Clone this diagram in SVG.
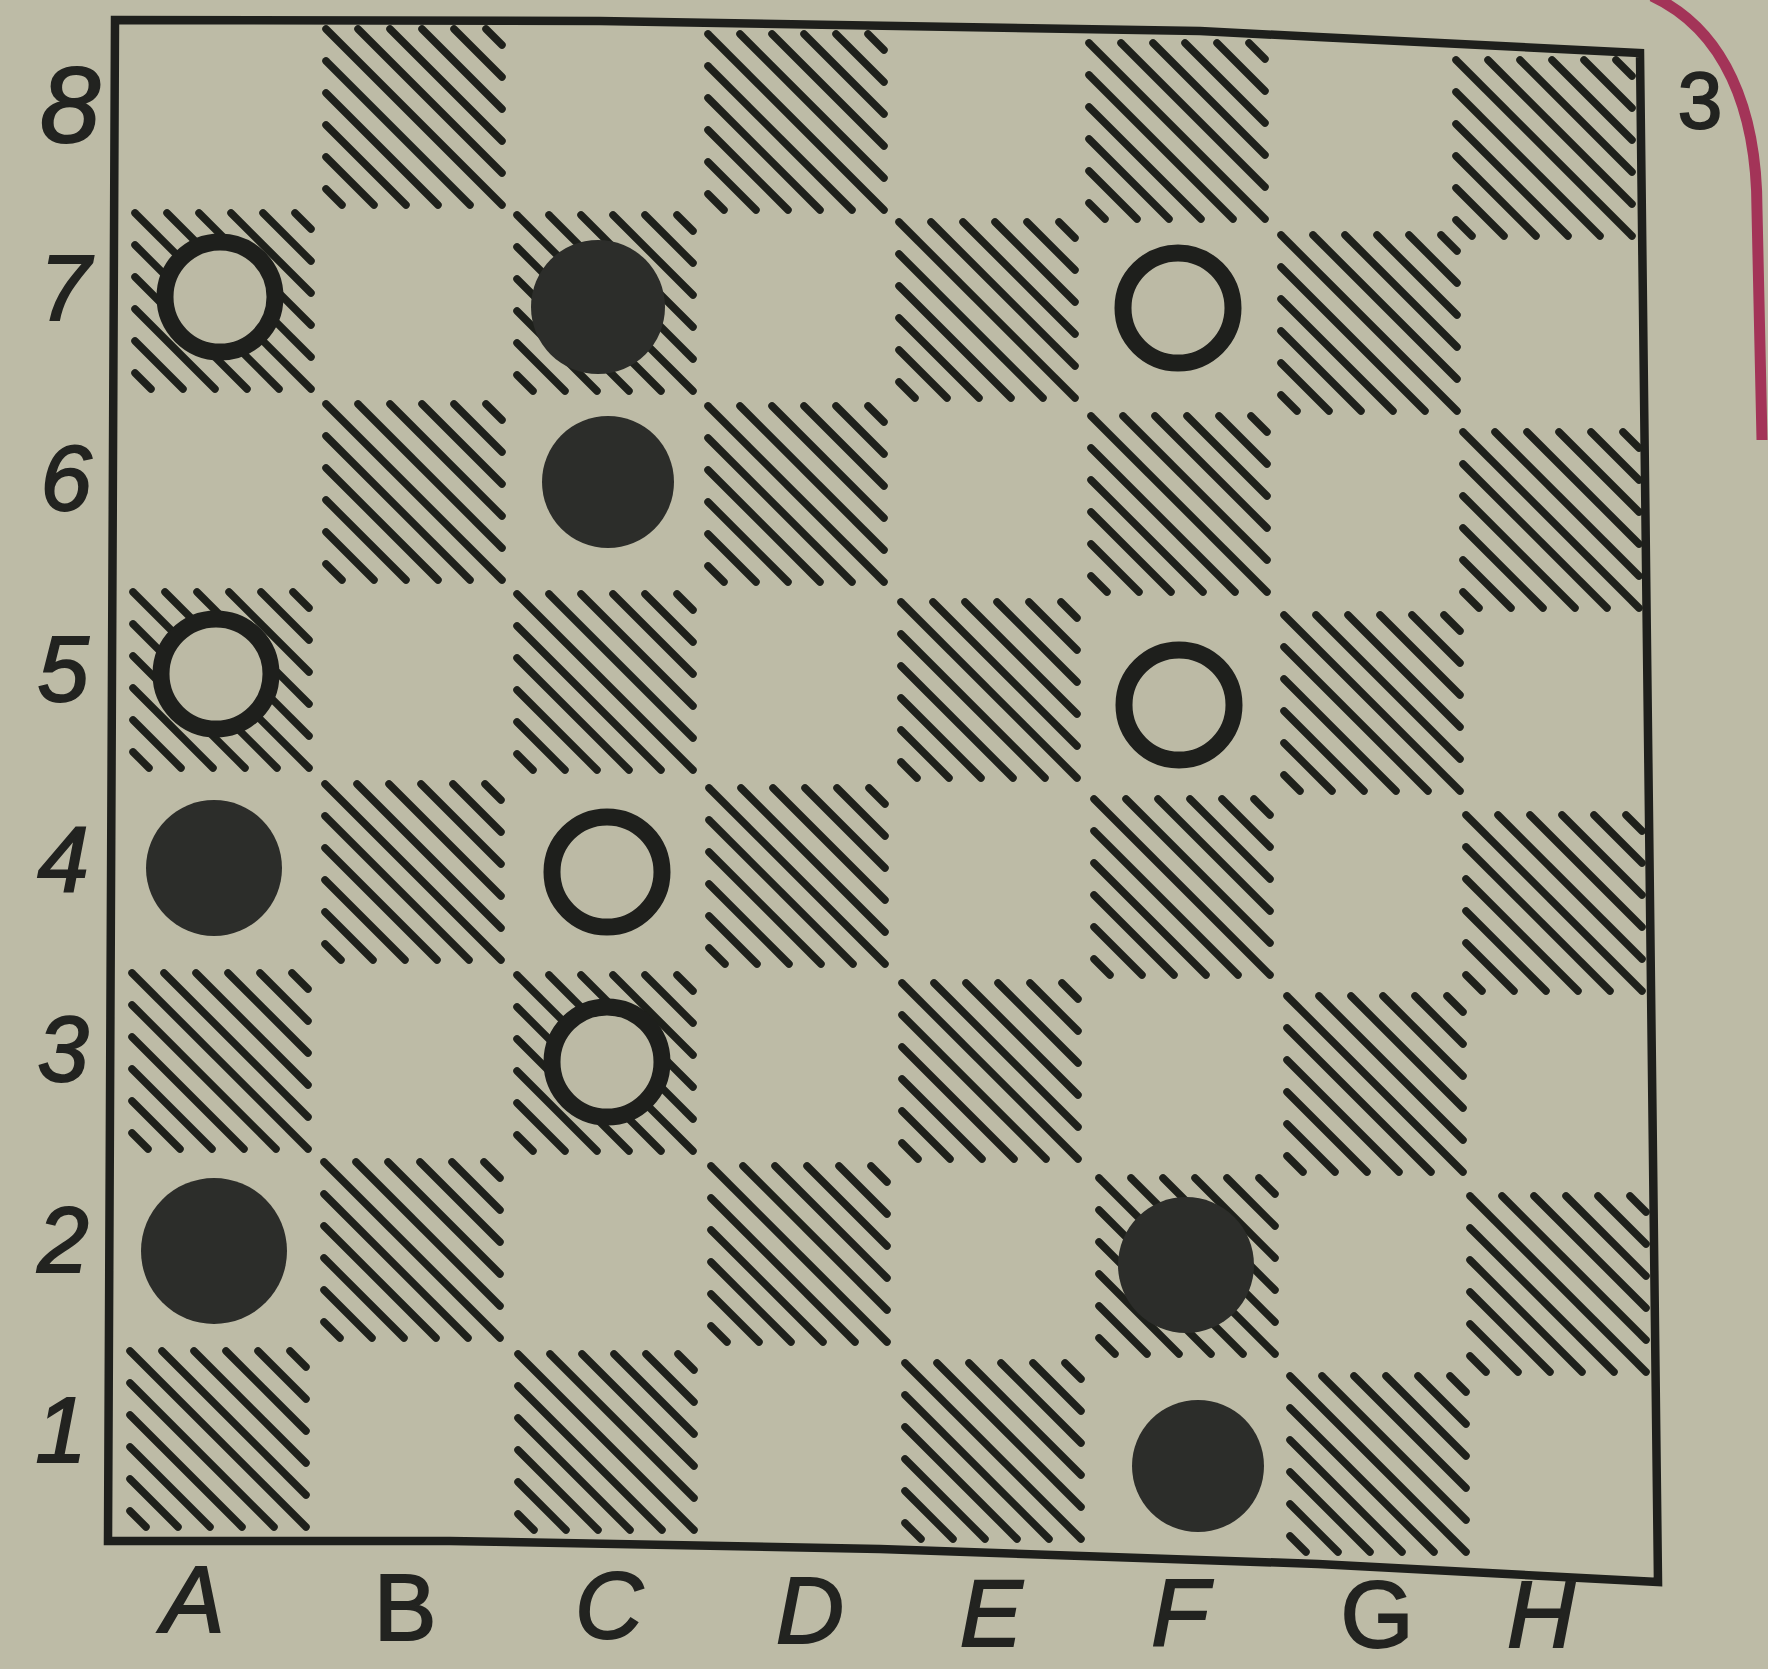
<svg xmlns="http://www.w3.org/2000/svg" xmlns:xlink="http://www.w3.org/1999/xlink" width="1768" height="1669" viewBox="0 0 1768 1669">
<style>
.ink{fill:#222320;stroke:#222320;stroke-width:2;font-family:"Liberation Sans","DejaVu Sans",sans-serif;text-anchor:middle}
.rank{font-size:92px;font-style:italic}
.file{font-size:94px;font-style:italic}
.hl{stroke:#1e201b;stroke-width:7.5;stroke-linecap:round;fill:none}
.blk{fill:#2c2d2a}
.wht{fill:#bcbaa5;stroke:#1e1f1c;stroke-width:17}
</style>
<defs>
<g id="hatch">
<line class="hl" x1="0" y1="160" x2="16" y2="176"/>
<line class="hl" x1="0" y1="128" x2="48" y2="176"/>
<line class="hl" x1="0" y1="96" x2="80" y2="176"/>
<line class="hl" x1="0" y1="64" x2="112" y2="176"/>
<line class="hl" x1="0" y1="32" x2="144" y2="176"/>
<line class="hl" x1="0" y1="0" x2="176" y2="176"/>
<line class="hl" x1="32" y1="0" x2="176" y2="144"/>
<line class="hl" x1="64" y1="0" x2="176" y2="112"/>
<line class="hl" x1="96" y1="0" x2="176" y2="80"/>
<line class="hl" x1="128" y1="0" x2="176" y2="48"/>
<line class="hl" x1="160" y1="0" x2="176" y2="16"/>
</g>
</defs>
<rect id="paper" x="0" y="0" width="1768" height="1669" fill="#bdbba6"/>
<path id="red-edge" d="M1652,-4 C1725,30 1757,110 1757,210 L1762,440" fill="none" stroke="#a33458" stroke-width="11"/>
<path id="frame" d="M115,20 L600,21 L1200,31 L1318,37 L1640,53 L1658,1582 L1318,1564 L880,1549 L450,1541 L108,1541 Z" fill="none" stroke="#1e1f1c" stroke-width="8.5" stroke-linejoin="miter"/>
<g id="dark-squares">
<use xlink:href="#hatch" x="326" y="29"/>
<use xlink:href="#hatch" x="708" y="34"/>
<use xlink:href="#hatch" x="1089" y="43"/>
<use xlink:href="#hatch" x="1456" y="60"/>
<use xlink:href="#hatch" x="135" y="213"/>
<use xlink:href="#hatch" x="517" y="215"/>
<use xlink:href="#hatch" x="899" y="222"/>
<use xlink:href="#hatch" x="1281" y="235"/>
<use xlink:href="#hatch" x="326" y="404"/>
<use xlink:href="#hatch" x="708" y="406"/>
<use xlink:href="#hatch" x="1091" y="416"/>
<use xlink:href="#hatch" x="1463" y="432"/>
<use xlink:href="#hatch" x="133" y="592"/>
<use xlink:href="#hatch" x="517" y="594"/>
<use xlink:href="#hatch" x="901" y="602"/>
<use xlink:href="#hatch" x="1284" y="615"/>
<use xlink:href="#hatch" x="325" y="784"/>
<use xlink:href="#hatch" x="709" y="788"/>
<use xlink:href="#hatch" x="1094" y="799"/>
<use xlink:href="#hatch" x="1466" y="815"/>
<use xlink:href="#hatch" x="132" y="973"/>
<use xlink:href="#hatch" x="517" y="975"/>
<use xlink:href="#hatch" x="902" y="983"/>
<use xlink:href="#hatch" x="1287" y="996"/>
<use xlink:href="#hatch" x="324" y="1162"/>
<use xlink:href="#hatch" x="711" y="1166"/>
<use xlink:href="#hatch" x="1099" y="1178"/>
<use xlink:href="#hatch" x="1470" y="1196"/>
<use xlink:href="#hatch" x="130" y="1351"/>
<use xlink:href="#hatch" x="518" y="1354"/>
<use xlink:href="#hatch" x="905" y="1363"/>
<use xlink:href="#hatch" x="1290" y="1376"/>
</g>
<g id="white-pieces">
<circle id="A7" class="wht" cx="220" cy="297" r="55"/>
<circle id="F7" class="wht" cx="1178" cy="308" r="55"/>
<circle id="A5" class="wht" cx="216" cy="674" r="55"/>
<circle id="F5" class="wht" cx="1179" cy="705" r="55"/>
<circle id="C4" class="wht" cx="607" cy="872" r="55"/>
<circle id="C3" class="wht" cx="607" cy="1062" r="55"/>
</g>
<g id="black-pieces">
<circle id="C7" class="blk" cx="598" cy="307" r="67"/>
<circle id="C6" class="blk" cx="608" cy="482" r="66"/>
<circle id="A4" class="blk" cx="214" cy="868" r="68"/>
<circle id="A2" class="blk" cx="214" cy="1251" r="73"/>
<circle id="F2" class="blk" cx="1186" cy="1265" r="68"/>
<circle id="F1" class="blk" cx="1198" cy="1466" r="66"/>
</g>
<g id="rank-labels" class="ink rank">
<text x="70" y="142" font-size="108">8</text>
<text x="65" y="320">7</text>
<text x="66" y="510">6</text>
<text x="63" y="701">5</text>
<text x="63" y="891">4</text>
<text x="63" y="1081">3</text>
<text x="63" y="1272">2</text>
<text x="61" y="1462">1</text>
</g>
<g id="file-labels" class="ink file">
<text x="193" y="1632">A</text>
<text x="405" y="1640" font-style="normal">B</text>
<text x="609" y="1638">C</text>
<text x="810" y="1643">D</text>
<text x="991" y="1646">E</text>
<text x="1180" y="1645">F</text>
<text x="1377" y="1647" font-style="normal">G</text>
<text x="1541" y="1647">H</text>
</g>
<text id="page-number" class="ink" x="1700" y="128" font-size="80">3</text>
</svg>
